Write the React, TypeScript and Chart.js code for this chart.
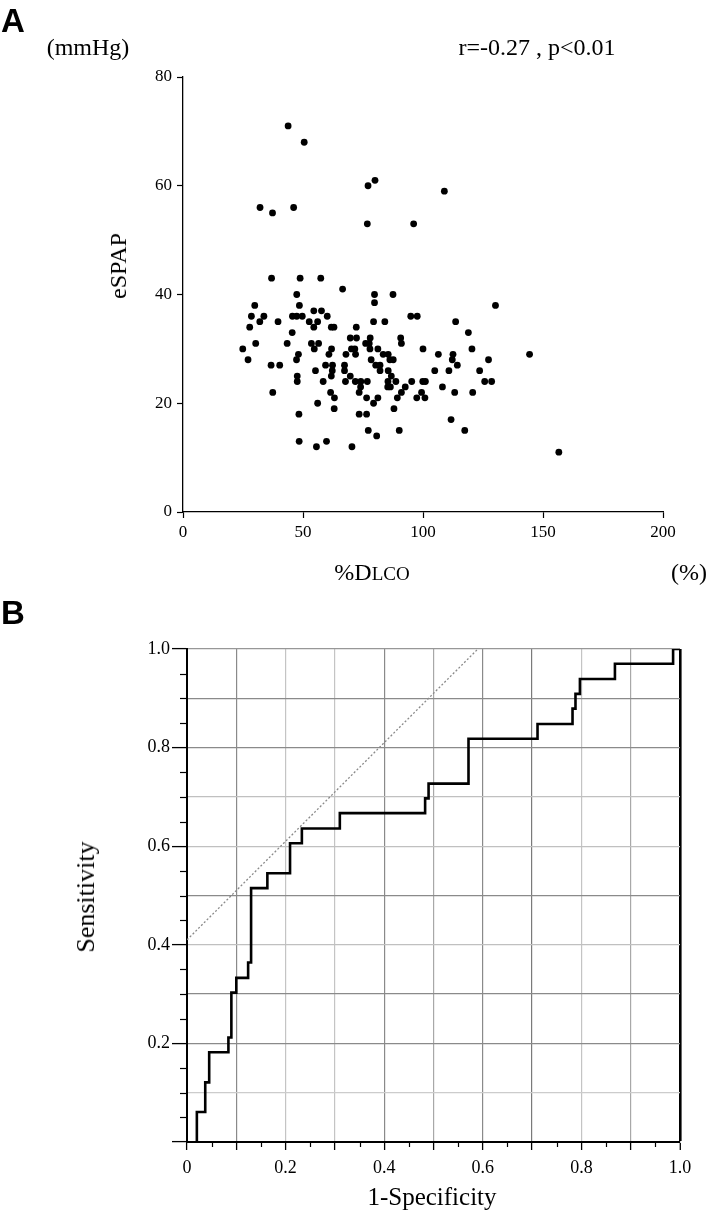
import React, { useEffect, useRef } from "react";
import { Chart, registerables } from "chart.js";

Chart.register(...registerables);

// ---------- Panel A : %DLCO vs eSPAP ----------
const DLCO_PCT = [
  43.8, 50.5, 77.1, 80.0, 32.1, 37.3, 46.1, 76.8, 96.1, 108.9, 36.9, 48.8, 57.4, 66.5,
  47.4, 79.8, 87.5, 79.8, 29.9, 48.5, 54.5, 57.7, 28.5, 33.7, 45.6, 47.4, 49.7, 60.1,
  94.9, 97.6, 32.0, 39.6, 52.6, 56.1, 79.4, 84.1, 27.8, 54.5, 61.8, 62.9, 72.2, 45.5,
  69.7, 72.3, 78.0, 90.7, 30.3, 43.4, 53.5, 56.5, 76.1, 77.6, 91.0, 24.9, 54.7, 61.9,
  70.2, 71.6, 77.9, 81.2, 100.0, 48.1, 60.8, 67.9, 71.9, 83.4, 85.5, 27.1, 47.3, 78.4,
  86.2, 87.6, 36.7, 40.3, 59.4, 62.3, 67.3, 80.3, 82.1, 55.2, 62.2, 67.3, 82.1, 85.5,
  47.6, 61.8, 69.7, 86.8, 47.6, 58.4, 67.7, 71.8, 74.1, 76.8, 85.4, 88.7, 95.3, 99.9,
  101.0, 74.0, 85.3, 86.4, 92.6, 37.4, 61.5, 73.4, 91.0, 99.4, 63.1, 76.5, 81.2, 89.3,
  97.4, 100.8, 56.1, 79.4, 63.0, 87.9, 48.3, 73.4, 76.5, 77.2, 90.1, 80.7, 48.4, 59.8,
  55.6, 70.4,
  130.2, 113.6, 118.9, 120.4, 106.4, 112.5, 144.4, 112.2, 127.3, 114.3, 104.9, 110.8,
  123.6, 125.7, 128.6, 108.1, 113.2, 120.7, 111.7, 117.4, 156.6,
];
const ESPAP = [
  71, 68, 60, 61, 56, 55, 56, 53, 53, 59, 43, 43, 43, 41,
  40, 40, 40, 38.5, 38, 38, 37, 37, 36, 36, 36, 36, 36, 36,
  36, 36, 35, 35, 35, 35, 35, 35, 34, 34, 34, 34, 34, 33,
  32, 32, 32, 32, 31, 31, 31, 31, 31, 31, 31, 30, 30, 30,
  30, 30, 30, 30, 30, 29, 29, 29, 29, 29, 29, 28, 28, 28,
  28, 28, 27, 27, 27, 27, 27, 27, 27, 26, 26, 26, 26, 26,
  25, 25, 25, 25, 24, 24, 24, 24, 24, 24, 24, 24, 24, 24,
  24, 23, 23, 23, 23, 22, 22, 22, 22, 22, 21, 21, 21, 21,
  21, 21, 20, 20, 19, 19, 18, 18, 18, 15, 15, 14, 13, 13,
  12, 12,
  38, 35, 33, 30, 29, 29, 29, 28, 28, 27, 26, 26,
  26, 24, 24, 23, 22, 22, 17, 15, 11,
];
const A_X_TICKS = [0, 50, 100, 150, 200];
const A_Y_TICKS = [0, 20, 40, 60, 80];

// ---------- Panel B : ROC curve ----------
const ROC_FPR = [
  0.02, 0.02, 0.037, 0.045, 0.084, 0.09, 0.1, 0.124, 0.13, 0.163, 0.209, 0.233,
  0.31, 0.483, 0.49, 0.571, 0.711, 0.782, 0.788, 0.797, 0.868, 0.986, 1.0,
];
const ROC_TPR = [
  0, 0.061, 0.121, 0.182, 0.212, 0.303, 0.333, 0.364, 0.515, 0.545, 0.606, 0.636,
  0.667, 0.697, 0.727, 0.818, 0.848, 0.879, 0.909, 0.939, 0.97, 1.0, 1.0,
];
const REF_FPR = [0, 0.59];
const REF_TPR = [0.41, 1.0];
const B_TICK_VALUES = [
  0, 0.05, 0.1, 0.15, 0.2, 0.25, 0.3, 0.35, 0.4, 0.45, 0.5,
  0.55, 0.6, 0.65, 0.7, 0.75, 0.8, 0.85, 0.9, 0.95, 1.0,
];
const B_X_LABELS = ["0", "0.2", "0.4", "0.6", "0.8", "1.0"];
const B_Y_LABELS = ["", "0.2", "0.4", "0.6", "0.8", "1.0"];

// grid shades for every 0.1 line (index 0..10)
const B_VGRID_SHADES = ["rgba(0,0,0,0)", "#8a8a8a", "#c4c4c4", "#c4c4c4", "#8a8a8a", "#a8a8a8", "#8a8a8a", "#7a7a7a", "#c4c4c4", "#a8a8a8", "#000000"];
const B_HGRID_SHADES = ["rgba(0,0,0,0)", "#cccccc", "#8a8a8a", "#8a8a8a", "#c0c0c0", "#8a8a8a", "#c0c0c0", "#c0c0c0", "#8a8a8a", "#8a8a8a", "#979797"];

const SERIF = '"Liberation Serif", "Times New Roman", serif';
const SANS = '"Liberation Sans", Arial, sans-serif';

function ScatterA() {
  const ref = useRef<HTMLCanvasElement | null>(null);
  useEffect(() => {
    if (!ref.current) return;
    const chart = new Chart(ref.current, {
      type: "scatter",
      data: {
        datasets: [
          {
            data: DLCO_PCT.map((x, i) => ({ x, y: ESPAP[i] })),
            pointRadius: 3.4,
            pointHoverRadius: 3.4,
            pointBackgroundColor: "#000",
            pointBorderWidth: 0,
          },
        ],
      },
      options: {
        animation: false,
        responsive: false,
        events: [],
        layout: { padding: { left: 0, right: 45, top: 77, bottom: 48 } },
        plugins: { legend: { display: false }, tooltip: { enabled: false } },
        scales: {
          x: {
            type: "linear",
            min: 0,
            max: 200,
            afterBuildTicks: (s: any) => {
              s.ticks = A_X_TICKS.map((v) => ({ value: v }));
            },
            afterFit: (s: any) => {
              s.height = 40;
            },
            grid: { drawOnChartArea: false, color: "#000", tickLength: 6, tickWidth: 1.2 },
            border: { color: "#000", width: 1.3 },
            ticks: { color: "#000", font: { family: SERIF, size: 17 }, padding: 4, maxRotation: 0, autoSkip: false },
          },
          y: {
            type: "linear",
            min: 0,
            max: 80,
            afterBuildTicks: (s: any) => {
              s.ticks = A_Y_TICKS.map((v) => ({ value: v }));
            },
            afterFit: (s: any) => {
              s.width = 183;
            },
            grid: { drawOnChartArea: false, color: "#000", tickLength: 6, tickWidth: 1.2 },
            border: { color: "#000", width: 1.3 },
            ticks: { color: "#000", font: { family: SERIF, size: 17 }, padding: 5, autoSkip: false },
          },
        },
      },
    });
    return () => chart.destroy();
  }, []);
  return (
    <canvas
      ref={ref}
      width={708}
      height={600}
      style={{ position: "absolute", left: 0, top: 0, width: 708, height: 600 }}
    />
  );
}

const kOf = (v: number) => Math.round(v * 20);

const minorTicks = {
  id: "minorTicks",
  afterDraw(chart: any) {
    const { ctx, chartArea, scales } = chart;
    ctx.save();
    ctx.strokeStyle = "#000";
    ctx.lineWidth = 1.2;
    B_TICK_VALUES.forEach((v) => {
      const k = kOf(v);
      if (k % 2 !== 0) {
        const x = Math.round(scales.x.getPixelForValue(v)) + 0.5;
        ctx.beginPath();
        ctx.moveTo(x, chartArea.bottom);
        ctx.lineTo(x, chartArea.bottom + 5);
        ctx.stroke();
      }
      if (k % 4 !== 0) {
        const y = Math.round(scales.y.getPixelForValue(v)) + 0.5;
        ctx.beginPath();
        ctx.moveTo(chartArea.left, y);
        ctx.lineTo(chartArea.left - 7, y);
        ctx.stroke();
      }
    });
    ctx.restore();
  },
};

function RocB() {
  const ref = useRef<HTMLCanvasElement | null>(null);
  useEffect(() => {
    if (!ref.current) return;
    const chart = new Chart(ref.current, {
      type: "line",
      data: {
        datasets: [
          {
            data: ROC_FPR.map((x, i) => ({ x, y: ROC_TPR[i] })),
            borderColor: "#000",
            borderWidth: 2.6,
            pointRadius: 0,
            stepped: "before",
            fill: false,
          },
          {
            data: REF_FPR.map((x, i) => ({ x, y: REF_TPR[i] })),
            borderColor: "#8a8a8a",
            borderWidth: 1.3,
            borderDash: [2, 2],
            pointRadius: 0,
            fill: false,
          },
        ],
      },
      options: {
        animation: false,
        responsive: false,
        events: [],
        layout: { padding: { left: 0, right: 28, top: 59, bottom: 25 } },
        plugins: { legend: { display: false }, tooltip: { enabled: false } },
        scales: {
          x: {
            type: "linear",
            min: 0,
            max: 1,
            afterBuildTicks: (s: any) => {
              s.ticks = B_TICK_VALUES.map((v) => ({ value: v }));
            },
            afterFit: (s: any) => {
              s.height = 45;
            },
            grid: {
              color: (c: any) => {
                const k = kOf(c.tick.value);
                return k % 2 === 0 ? B_VGRID_SHADES[k / 2] : "rgba(0,0,0,0)";
              },
              lineWidth: (c: any) => (kOf(c.tick.value) === 20 ? 2.6 : 1.2),
              tickColor: (c: any) => (kOf(c.tick.value) % 2 === 0 ? "#000" : "rgba(0,0,0,0)"),
              tickLength: 8,
              tickWidth: 1.3,
            },
            border: { color: "#000", width: 2 },
            ticks: {
              color: "#000",
              font: { family: SERIF, size: 18 },
              padding: 7,
              maxRotation: 0,
              autoSkip: false,
              callback: (v: any) => {
                const k = kOf(Number(v));
                return k % 4 === 0 ? B_X_LABELS[k / 4] : "";
              },
            },
          },
          y: {
            type: "linear",
            min: 0,
            max: 1,
            afterBuildTicks: (s: any) => {
              s.ticks = B_TICK_VALUES.map((v) => ({ value: v }));
            },
            afterFit: (s: any) => {
              s.width = 187;
            },
            grid: {
              color: (c: any) => {
                const k = kOf(c.tick.value);
                return k % 2 === 0 ? B_HGRID_SHADES[k / 2] : "rgba(0,0,0,0)";
              },
              lineWidth: 1.2,
              tickColor: (c: any) => (kOf(c.tick.value) % 4 === 0 ? "#000" : "rgba(0,0,0,0)"),
              tickLength: 15,
              tickWidth: 1.3,
            },
            border: { color: "#000", width: 2 },
            ticks: {
              color: "#000",
              font: { family: SERIF, size: 18 },
              padding: 2,
              autoSkip: false,
              callback: (v: any) => {
                const k = kOf(Number(v));
                return k % 4 === 0 ? B_Y_LABELS[k / 4] : "";
              },
            },
          },
        },
      },
      plugins: [minorTicks],
    });
    return () => chart.destroy();
  }, []);
  return (
    <canvas
      ref={ref}
      width={708}
      height={622}
      style={{ position: "absolute", left: 0, top: 590, width: 708, height: 622 }}
    />
  );
}

function Txt(props: {
  x: number;
  y: number;
  size: number;
  children: React.ReactNode;
  rotate?: boolean;
  bold?: boolean;
  family?: string;
  left?: boolean;
}) {
  const { x, y, size, children, rotate, bold, family, left } = props;
  return (
    <div
      style={{
        position: "absolute",
        left: x,
        top: y,
        transform: left ? "translate(0,-50%)" : `translate(-50%,-50%)${rotate ? " rotate(-90deg)" : ""}`,
        fontFamily: family || SERIF,
        fontSize: size,
        fontWeight: bold ? 700 : 400,
        lineHeight: 1,
        whiteSpace: "nowrap",
        color: "#000",
      }}
    >
      {children}
    </div>
  );
}

export default function App() {
  return (
    <div style={{ position: "absolute", left: 0, top: 0, width: 708, height: 1212, background: "#fff", overflow: "hidden" }}>
      <ScatterA />
      <RocB />
      <Txt x={1} y={20} size={33} bold family={SANS} left>A</Txt>
      <Txt x={88} y={47} size={24}>(mmHg)</Txt>
      <Txt x={537} y={47} size={24}>r=-0.27 , p&lt;0.01</Txt>
      <Txt x={118} y={266} size={24} rotate>eSPAP</Txt>
      <Txt x={372} y={572} size={24}>
        %D<span style={{ fontSize: 19 }}>LCO</span>
      </Txt>
      <Txt x={689} y={572} size={24}>(%)</Txt>
      <Txt x={1} y={612} size={33} bold family={SANS} left>B</Txt>
      <Txt x={86} y={897} size={26} rotate>Sensitivity</Txt>
      <Txt x={432} y={1196} size={25}>1-Specificity</Txt>
    </div>
  );
}
